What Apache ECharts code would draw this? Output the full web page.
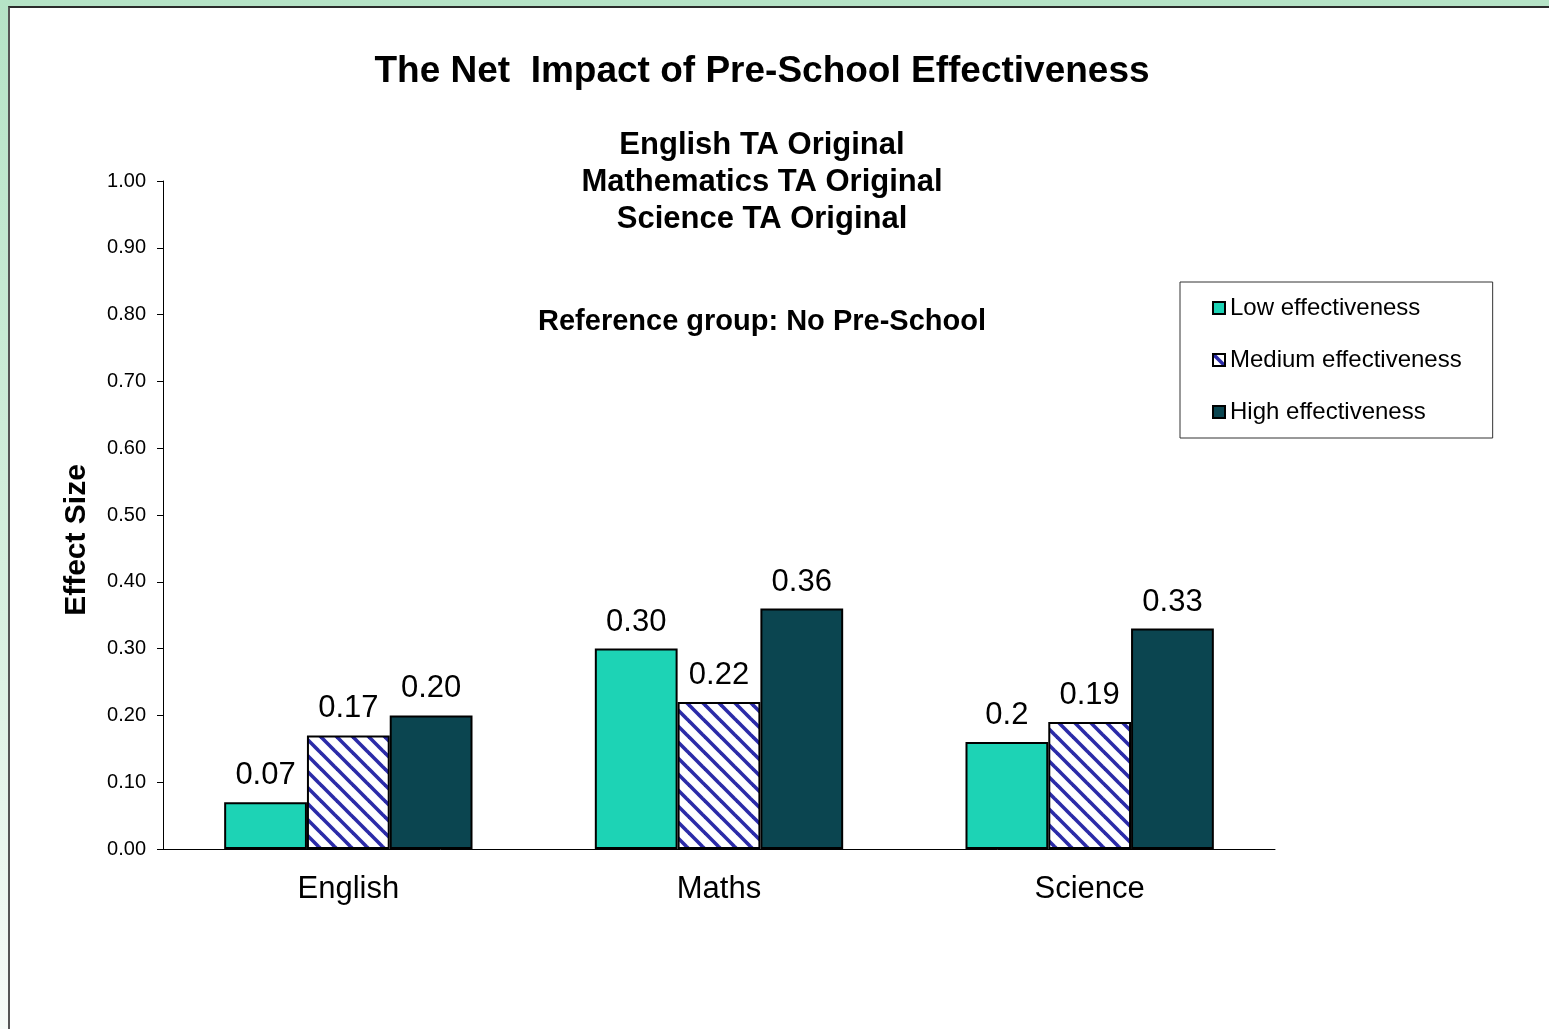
<!DOCTYPE html>
<html>
<head>
<meta charset="utf-8">
<title>The Net Impact of Pre-School Effectiveness</title>
<script src="https://cdn.jsdelivr.net/npm/echarts@6/dist/echarts.min.js"></script>
<style>
  html, body { margin: 0; padding: 0; }
  body {
    width: 1549px; height: 1029px; overflow: hidden; position: relative;
    background: linear-gradient(to bottom, #b5e3c6 0%, #d8f0e0 60%, #f7fbf8 100%);
  }
  #frame {
    position: absolute; left: 8px; top: 6px; right: 0; bottom: 0;
    background: #fff; border-top: 2px solid #2a2a2a; border-left: 2px solid #555;
  }
  #mychart { position: absolute; left: 0; top: 0; width: 1549px; height: 1029px; }
</style>
</head>
<body>
<div id="frame"></div>
<div id="mychart"></div>
<script>
  // data
  const categories = ['English', 'Maths', 'Science']
  const seriesNames = ['Low effectiveness', 'Medium effectiveness', 'High effectiveness']
  const lowValues = [0.07, 0.30, 0.16]
  const mediumValues = [0.17, 0.22, 0.19]
  const highValues = [0.20, 0.36, 0.33]
  // labels as printed on the original (Science low shows "0.2")
  const lowLabels = ['0.07', '0.30', '0.2']
  const mediumLabels = ['0.17', '0.22', '0.19']
  const highLabels = ['0.20', '0.36', '0.33']
  const subTitles = ['English TA Original', 'Mathematics TA Original', 'Science TA Original']

  const font = 'Liberation Sans, Arial, sans-serif'

  // diagonal hatch for the medium bars
  function makeHatch() {
    const c = document.createElement('canvas')
    c.width = 16
    c.height = 16
    const ctx = c.getContext('2d')
    ctx.fillStyle = '#fff'
    ctx.fillRect(0, 0, 16, 16)
    ctx.strokeStyle = '#2b2ba8'
    ctx.lineWidth = 3.6
    ;[-16, 0, 16].forEach(function (k) {
      ctx.beginPath()
      ctx.moveTo(-4, -4 + k)
      ctx.lineTo(20, 20 + k)
      ctx.stroke()
    })
    return c
  }

  function barSeries(name, values, labels, color) {
    return {
      name: name,
      type: 'bar',
      data: values,
      barGap: 0,
      barCategoryGap: '33%',
      itemStyle: { color: color, borderColor: '#000', borderWidth: 2 },
      label: {
        show: true,
        position: 'top',
        distance: 11,
        fontFamily: font,
        fontSize: 31,
        color: '#000',
        formatter: function (p) { return labels[p.dataIndex] }
      }
    }
  }

  const mychartDom = document.getElementById('mychart')
  const myChart = echarts.init(mychartDom)

  const graphics = [{
    type: 'text',
    x: 762, y: 72,
    style: { text: 'The Net  Impact of Pre-School Effectiveness', fontFamily: font, fontSize: 37, fontWeight: 'bold', fill: '#000', align: 'center', verticalAlign: 'middle' }
  }]
  subTitles.forEach(function (t, i) {
    graphics.push({
      type: 'text',
      x: 762, y: 145 + i * 37,
      style: { text: t, fontFamily: font, fontSize: 31, fontWeight: 'bold', fill: '#000', align: 'center', verticalAlign: 'middle' }
    })
  })
  graphics.push({
    type: 'text',
    x: 762, y: 322,
    style: { text: 'Reference group: No Pre-School', fontFamily: font, fontSize: 29, fontWeight: 'bold', fill: '#000', align: 'center', verticalAlign: 'middle' }
  })
  graphics.push({
    type: 'text',
    x: 77, y: 540,
    rotation: Math.PI / 2,
    style: { text: 'Effect Size', fontFamily: font, fontSize: 30, fontWeight: 'bold', fill: '#000', align: 'center', verticalAlign: 'middle' }
  })

  const option = {
    animation: false,
    grid: { left: 163, top: 181, right: 274, bottom: 180 },
    legend: {
      orient: 'vertical',
      left: 1180,
      top: 282,
      padding: [14, 31, 14, 32],
      itemGap: 28,
      itemWidth: 12,
      itemHeight: 12,
      itemTextGap: 5,
      icon: 'rect',
      borderColor: '#333',
      borderWidth: 1,
      textStyle: { fontFamily: font, fontSize: 24, color: '#000' },
      data: seriesNames
    },
    xAxis: {
      type: 'category',
      data: categories,
      axisLine: { lineStyle: { color: '#000', width: 1 } },
      axisTick: { show: false },
      axisLabel: { fontFamily: font, fontSize: 31, color: '#000', margin: 25 }
    },
    yAxis: {
      type: 'value',
      min: 0,
      max: 1,
      interval: 0.1,
      splitLine: { show: false },
      axisLine: { show: true, lineStyle: { color: '#000', width: 1 } },
      axisTick: { show: true, length: 6, lineStyle: { color: '#000' } },
      axisLabel: {
        fontFamily: font, fontSize: 20, color: '#000', margin: 17,
        formatter: function (v) { return v.toFixed(2) }
      }
    },
    graphic: graphics,
    series: [
      barSeries(seriesNames[0], lowValues, lowLabels, '#1dd3b5'),
      barSeries(seriesNames[1], mediumValues, mediumLabels, { image: makeHatch(), repeat: 'repeat' }),
      barSeries(seriesNames[2], highValues, highLabels, '#0b4550')
    ]
  }

  myChart.setOption(option)
</script>
</body>
</html>
